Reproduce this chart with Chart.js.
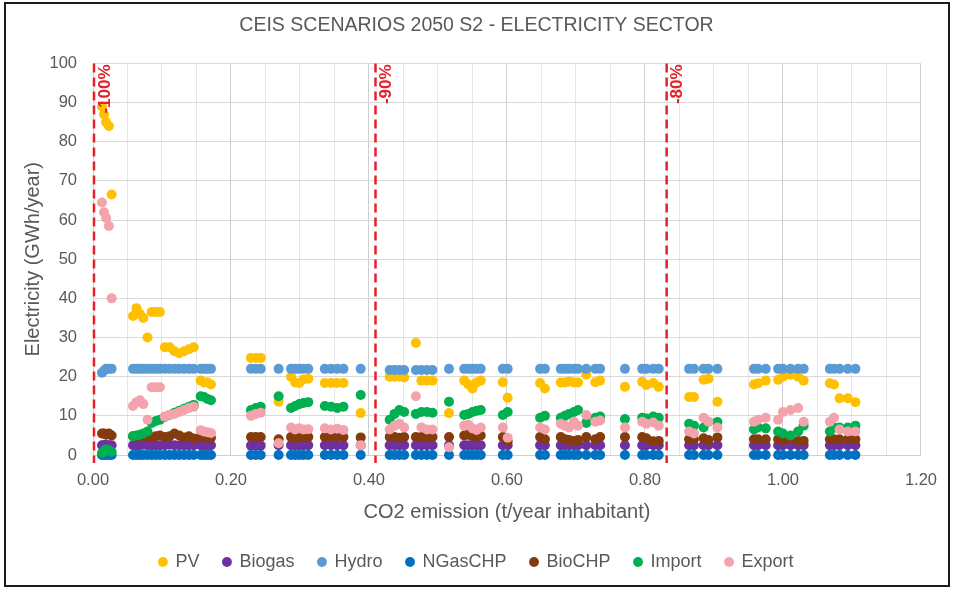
<!DOCTYPE html>
<html>
<head>
<meta charset="utf-8">
<script src="https://cdn.jsdelivr.net/npm/chart.js@4.4.1/dist/chart.umd.min.js"></script>
<style>
  html, body { margin: 0; padding: 0; background: #fff; }
  #wrap { position: relative; width: 953px; height: 589px; }
</style>
</head>
<body>
<div id="wrap"><canvas id="c" width="953" height="589"></canvas></div>
<script>
// ---- Data ----
const emission = [
  0.013, 0.016, 0.019, 0.023, 0.027,
  0.058, 0.063, 0.068, 0.073, 0.079, 0.085, 0.091, 0.097, 0.104, 0.111, 0.118, 0.125, 0.132, 0.139, 0.146,
  0.156, 0.161, 0.166, 0.171,
  0.229, 0.236, 0.243,
  0.269,
  0.287, 0.293, 0.299, 0.305, 0.312,
  0.336, 0.345, 0.354, 0.363,
  0.388,
  0.430, 0.437, 0.444, 0.451,
  0.468, 0.476, 0.484, 0.492,
  0.516,
  0.538, 0.544, 0.550, 0.556, 0.562,
  0.594, 0.601,
  0.648, 0.655,
  0.678, 0.684, 0.690, 0.697, 0.703,
  0.715,
  0.728, 0.735,
  0.771,
  0.796, 0.802, 0.812, 0.820,
  0.864, 0.871, 0.885, 0.892, 0.905,
  0.958, 0.964, 0.975,
  0.993, 1.000, 1.011, 1.022, 1.030,
  1.068, 1.074, 1.082, 1.094, 1.105
];

const pv = [
  89, 87, 85, 84, 66.5,
  35.5, 37.5, 36, 35, 30, 36.5, 36.5, 36.5, 27.5, 27.5, 26.5, 26, 26.5, 27, 27.5,
  19, 18.5, 18.5, 18,
  24.8, 24.8, 24.8,
  13.6,
  20, 18.5, 18.4, 19.3, 19.5,
  18.4, 18.4, 18.4, 18.4,
  10.7,
  20, 20, 20, 19.8,
  28.6, 19, 19, 19,
  10.7,
  19, 18, 17, 18.5, 19,
  18.6, 14.6,
  18.4, 17,
  18.5, 18.5, 18.8, 18.5, 18.5,
  20.5,
  18.6, 19,
  17.4,
  18.7, 17.9, 18.4, 17.4,
  14.8, 14.8, 19.2, 19.5, 13.6,
  18, 18.3, 19,
  19.2, 20, 20.5, 20, 19,
  18.3, 18, 14.5, 14.5, 13.5
];

const biogas = [
  2.5, 2.5, 2.6, 2.5, 2.5,
  2.5, 2.5, 2.5, 2.6, 2.5, 2.5, 2.5, 2.5, 2.5, 2.6, 2.5, 2.5, 2.5, 2.5, 2.5,
  2.5, 2.5, 2.5, 2.5,
  2.4, 2.4, 2.4,
  2.5,
  2.5, 2.5, 2.5, 2.5, 2.5,
  2.5, 2.5, 2.5, 2.5,
  2.5,
  2.5, 2.5, 2.5, 2.5,
  2.5, 2.5, 2.5, 2.5,
  2.5,
  2.5, 2.5, 2.5, 2.5, 2.5,
  2.5, 2.5,
  2.5, 2.5,
  2.5, 2.5, 2.5, 2.5, 2.5,
  2.5,
  2.5, 2.5,
  2.5,
  2.5, 2.5, 2.5, 2.5,
  2.5, 2.5, 2.5, 2.5, 2.5,
  2.5, 2.5, 2.5,
  2.5, 2.5, 2.5, 2.5, 2.5,
  2.5, 2.5, 2.5, 2.5, 2.5
];

const hydro = [
  21, 21.5, 22, 22, 22,
  22, 22, 22, 22, 22, 22, 22, 22, 22, 22, 22, 22, 22, 22, 22,
  22, 22, 22, 22,
  22, 22, 22,
  22,
  22, 22, 22, 22, 22,
  22, 22, 22, 22,
  22,
  21.7, 21.7, 21.7, 21.7,
  21.7, 21.7, 21.7, 21.7,
  22,
  22, 22, 22, 22, 22,
  22, 22,
  22, 22,
  22, 22, 22, 22, 22,
  22,
  22, 22,
  22,
  22, 22, 22, 22,
  22, 22, 22, 22, 22,
  22, 22, 22,
  22, 22, 22, 22, 22,
  22, 22, 22, 22, 22
];

const ngaschp = [
  0, 0, 0, 0, 0,
  0, 0, 0, 0, 0, 0, 0, 0, 0, 0, 0, 0, 0, 0, 0,
  0, 0, 0, 0,
  0, 0, 0,
  0,
  0, 0, 0, 0, 0,
  0, 0, 0, 0,
  0,
  0, 0, 0, 0,
  0, 0, 0, 0,
  0,
  0, 0, 0, 0, 0,
  0, 0,
  0, 0,
  0, 0, 0, 0, 0,
  0,
  0, 0,
  0,
  0, 0, 0, 0,
  0, 0, 0, 0, 0,
  0, 0, 0,
  0, 0, 0, 0, 0,
  0, 0, 0, 0, 0
];

const biochp = [
  5.5, 5.5, 5.2, 5.5, 5,
  4.8, 4.5, 4.6, 4.8, 4.6, 4.5, 4.8, 5.0, 4.6, 4.8, 5.5, 5.0, 4.5, 4.8, 4.2,
  4.6, 4.5, 4.5, 4.4,
  4.6, 4.6, 4.6,
  4.0,
  4.6, 4.3, 4.6, 4.5, 4.6,
  4.6, 4.6, 4.6, 4.6,
  4.5,
  4.6, 4.6, 4.4, 4.6,
  4.6, 4.6, 4.5, 4.6,
  4.6,
  5, 5.2, 4.8, 4.6, 5,
  4.6, 3.5,
  4.6, 4,
  4.6, 4, 3.8, 3.6, 3.8,
  4.6,
  4, 4.6,
  4.6,
  4.6, 4.3, 3.5, 3.6,
  4, 4, 4.3, 3.8, 4.5,
  4, 4, 4,
  4, 3.8, 4.2, 3.6, 3.6,
  4, 4, 4, 4, 4
];

const imports = [
  0.5, 1, 1.5, 1.2, 0.8,
  4.8, 5, 5.2, 5.5, 6, 8.2, 8.7, 9, 9.7, 10.2, 10.8, 11.3, 11.8, 12.3, 12.8,
  15, 14.8, 14.3, 14,
  11.5, 12, 12.3,
  15,
  12, 12.5, 13, 13.3, 13.5,
  12.5, 12.3, 12, 12.3,
  15.3,
  9, 10.5, 11.5, 11,
  10.5, 11, 11, 10.8,
  13.6,
  10.2, 10.5, 11, 11.3, 11.5,
  10.2, 11,
  9.5, 10,
  9.5, 10, 10.5, 11, 11.5,
  8.2,
  9.5, 9.8,
  9.2,
  9.5, 9.3, 9.8, 9.5,
  8, 7.5, 7, 8.5, 8.4,
  6.5, 7, 6.8,
  6, 5.5, 5, 6, 7.5,
  6, 7, 7, 7, 7.5
];

const exports = [
  64.5, 62, 60.5, 58.5, 40,
  12.5, 13.5, 14, 13, 9, 17.3, 17.3, 17.3, 9.8, 10.3, 10.5, 11, 11.5, 12, 12.3,
  6.3, 6, 5.8, 5.6,
  10, 10.5, 10.8,
  3,
  7, 6.5, 6.8, 6.5, 6.6,
  6.8, 6.5, 6.7, 6.4,
  2.5,
  6.5, 7.5, 8, 7,
  15, 7, 6.5, 6.5,
  2,
  7.5, 7.7, 6.8, 6.4, 7,
  7, 4.4,
  7, 6.5,
  8, 7.5, 7, 8.5, 7.5,
  10.2,
  8.5, 8.8,
  7,
  8.5, 8, 8.3, 7.5,
  6, 5.5, 9.5, 8.5, 7,
  8.5, 9, 9.5,
  9, 11, 11.5, 12, 8.5,
  8.5, 9.5, 6.5, 6, 6
];

const seriesNames = ['PV', 'Biogas', 'Hydro', 'NGasCHP', 'BioCHP', 'Import', 'Export'];
const seriesValues = [pv, biogas, hydro, ngaschp, biochp, imports, exports];
const seriesColors = ['#FFC000', '#7030A0', '#5B9BD5', '#0070C0', '#843C0C', '#00B050', '#F4A3AC'];

const reductionLines = [0.0, 0.408, 0.83];
const reductionLabels = ['-100%', '-90%', '-80%'];

const chartTitle = 'CEIS SCENARIOS 2050 S2 - ELECTRICITY SECTOR';
const xTitle = 'CO2 emission (t/year inhabitant)';
const yTitle = 'Electricity (GWh/year)';

// ---- Chart ----
const FONT = "'Liberation Sans', Arial, sans-serif";
const GREY = '#595959';

const datasets = seriesNames.map((name, s) => ({
  label: name,
  data: emission.map((x, i) => ({ x: x, y: seriesValues[s][i] })),
  backgroundColor: seriesColors[s],
  borderColor: seriesColors[s],
  borderWidth: 0,
  pointRadius: 5,
  pointHoverRadius: 5,
  clip: false,
  order: seriesNames.length - s
}));

const framePlugin = {
  id: 'frame',
  afterDraw(chart) {
    const ctx = chart.ctx;
    ctx.save();
    ctx.strokeStyle = '#1a1a1a';
    ctx.lineWidth = 2;
    ctx.strokeRect(5, 3, 944, 583);
    ctx.restore();
  }
};

const reductionPlugin = {
  id: 'reduction',
  afterDatasetsDraw(chart) {
    const ctx = chart.ctx;
    const xs = chart.scales.x;
    const area = chart.chartArea;
    ctx.save();
    reductionLines.forEach((v, i) => {
      const px = xs.getPixelForValue(v) + 1;
      ctx.strokeStyle = '#E3212B';
      ctx.lineWidth = 2.5;
      ctx.setLineDash([9, 5]);
      ctx.beginPath();
      ctx.moveTo(px, area.top);
      ctx.lineTo(px, area.bottom + 8);
      ctx.stroke();
      ctx.setLineDash([]);
      ctx.save();
      ctx.translate(px + 11, area.top + 1);
      ctx.rotate(-Math.PI / 2);
      ctx.fillStyle = '#E3212B';
      ctx.font = "bold 17px 'Liberation Sans', Arial, sans-serif";
      ctx.textAlign = 'right';
      ctx.textBaseline = 'middle';
      ctx.fillText(reductionLabels[i], 0, 0);
      ctx.restore();
    });
    ctx.restore();
  }
};

new Chart(document.getElementById('c'), {
  type: 'scatter',
  data: { datasets },
  plugins: [framePlugin, reductionPlugin],
  options: {
    responsive: false,
    animation: false,
    layout: { padding: { left: 12, right: 12, top: 0, bottom: 8 } },
    plugins: {
      title: {
        display: true,
        text: chartTitle,
        color: GREY,
        font: { family: FONT, size: 19.5, weight: 'normal' },
        padding: { top: 14, bottom: 26 }
      },
      legend: {
        position: 'bottom',
        labels: {
          usePointStyle: true,
          pointStyle: 'circle',
          boxWidth: 7,
          boxHeight: 7,
          padding: 24,
          color: GREY,
          font: { family: FONT, size: 18 },
          sort: (a, b) => a.datasetIndex - b.datasetIndex
        }
      },
      tooltip: { enabled: false }
    },
    scales: {
      x: {
        type: 'linear',
        min: 0,
        max: 1.2,
        afterFit(scale) { scale.height = 74; },
        ticks: {
          stepSize: 0.05,
          autoSkip: false,
          maxRotation: 0,
          padding: 16,
          color: GREY,
          font: { family: FONT, size: 16.5 },
          callback: (v) => (Math.round(v * 100) % 20 === 0 ? Number(v).toFixed(2) : '')
        },
        grid: {
          drawTicks: false,
          color: (ctx) => (ctx.tick && Math.round(ctx.tick.value * 100) % 20 === 0 ? '#CFCFCF' : '#E6E6E6'),
          lineWidth: 1
        },
        border: { display: true, color: '#D0D0D0' },
        title: {
          display: true,
          text: xTitle,
          color: GREY,
          font: { family: FONT, size: 20 },
          padding: { top: 0, bottom: 5 }
        }
      },
      y: {
        min: 0,
        max: 100,
        afterFit(scale) { scale.width = 81; },
        ticks: {
          stepSize: 10,
          padding: 16,
          color: GREY,
          font: { family: FONT, size: 16.5 }
        },
        grid: { drawTicks: false, color: '#D9D9D9', lineWidth: 1 },
        border: { display: false },
        title: {
          display: true,
          text: yTitle,
          color: GREY,
          font: { family: FONT, size: 20 },
          padding: { top: 9, bottom: 0 }
        }
      }
    }
  }
});
</script>
</body>
</html>
